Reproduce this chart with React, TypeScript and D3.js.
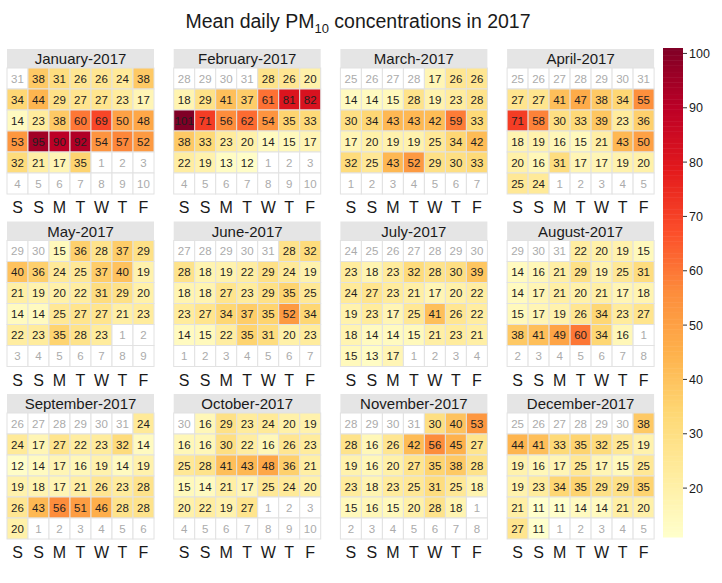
import React from "react";
import * as d3 from "d3";

const YEAR = 2017;
const monthNames = ["January", "February", "March", "April", "May", "June", "July", "August", "September", "October", "November", "December"];
const weekdayLabels = ["S", "S", "M", "T", "W", "T", "F"];
const legendTicks = [20, 30, 40, 50, 60, 70, 80, 90, 100];
const heatColours = ["#FFFFCC", "#FFEDA0", "#FED976", "#FEB24C", "#FD8D3C", "#FC4E2A", "#E31A1C", "#BD0026", "#800026"];

const jan = [38, 31, 26, 26, 24, 38, 34, 44, 29, 27, 27, 23, 17, 14, 23, 38, 60, 69, 50, 48, 53, 95, 90, 92, 54, 57, 52, 32, 21, 17, 35];
const feb = [28, 26, 20, 18, 29, 41, 37, 61, 81, 82, 101, 71, 56, 62, 54, 35, 33, 38, 33, 23, 20, 14, 15, 17, 22, 19, 13, 12];
const mar = [17, 26, 26, 14, 14, 15, 28, 19, 23, 28, 30, 34, 43, 43, 42, 59, 33, 17, 20, 19, 19, 25, 34, 42, 32, 25, 43, 52, 29, 30, 33];
const apr = [27, 27, 41, 47, 38, 34, 55, 71, 58, 30, 33, 39, 23, 36, 18, 19, 16, 15, 21, 43, 50, 20, 16, 31, 17, 17, 19, 20, 25, 24];
const may = [15, 36, 28, 37, 29, 40, 36, 24, 25, 37, 40, 19, 21, 19, 20, 22, 31, 29, 20, 14, 14, 25, 27, 27, 21, 23, 22, 23, 35, 28, 23];
const jun = [28, 32, 28, 18, 19, 22, 29, 24, 19, 18, 18, 27, 23, 29, 35, 25, 23, 27, 34, 37, 35, 52, 34, 14, 15, 22, 35, 31, 20, 23];
const jul = [23, 18, 23, 32, 28, 30, 39, 24, 27, 23, 21, 17, 20, 22, 19, 23, 17, 25, 41, 26, 22, 18, 14, 14, 15, 21, 23, 21, 15, 13, 17];
const aug = [22, 20, 19, 15, 14, 16, 21, 29, 19, 25, 31, 14, 17, 21, 20, 21, 17, 18, 15, 17, 19, 26, 34, 23, 27, 38, 41, 49, 60, 34, 16];
const sep = [24, 24, 17, 27, 22, 23, 32, 14, 12, 14, 17, 16, 19, 14, 19, 19, 18, 17, 21, 26, 23, 28, 26, 43, 56, 51, 46, 28, 28, 20];
const oct = [16, 29, 23, 24, 20, 19, 16, 16, 30, 22, 16, 26, 23, 25, 28, 41, 43, 48, 36, 21, 15, 14, 21, 17, 25, 24, 20, 20, 22, 19, 27];
const nov = [30, 40, 53, 28, 16, 26, 42, 56, 45, 27, 19, 16, 20, 27, 35, 38, 28, 23, 18, 23, 25, 31, 25, 18, 15, 16, 15, 20, 28, 18];
const dec = [38, 44, 41, 33, 35, 32, 25, 19, 19, 16, 17, 25, 17, 15, 25, 19, 23, 34, 35, 29, 29, 35, 21, 11, 11, 14, 14, 21, 20, 27, 11];

const monthValues = [jan, feb, mar, apr, may, jun, jul, aug, sep, oct, nov, dec];

const W = 722;
const H = 583;
const FONT = "'Liberation Sans', Arial, sans-serif";

type Cell = { day: number; value: number | null; inMonth: boolean; slot: number };

function buildMonth(m: number): Cell[] {
  const first = new Date(YEAR, m, 1);
  const daysIn = new Date(YEAR, m + 1, 0).getDate();
  const prevDays = new Date(YEAR, m, 0).getDate();
  // Saturday = 0 ... Friday = 6
  let lead = (first.getDay() + 1) % 7;
  if (lead === 0) lead = 7;
  const cells: Cell[] = [];
  for (let i = 0; i < lead; i++) {
    cells.push({ day: prevDays - lead + 1 + i, value: null, inMonth: false, slot: cells.length });
  }
  for (let d = 1; d <= daysIn; d++) {
    cells.push({ day: d, value: monthValues[m][d - 1], inMonth: true, slot: cells.length });
  }
  let nd = 1;
  while (cells.length < 42) {
    cells.push({ day: nd++, value: null, inMonth: false, slot: cells.length });
  }
  return cells;
}

export default function App() {
  const all = monthValues.flat();
  const vmin = d3.min(all) as number;
  const vmax = d3.max(all) as number;
  const colour = d3
    .scaleLinear<string>()
    .domain(heatColours.map((_, i) => vmin + ((vmax - vmin) * i) / (heatColours.length - 1)))
    .range(heatColours)
    .interpolate(d3.interpolateRgb);

  const panelX = d3.scaleLinear().domain([0, 1]).range([7, 173.7]);
  const panelY = d3.scaleLinear().domain([0, 1]).range([49, 221.5]);
  const stripH = 19;
  const colX = d3.scaleBand<number>().domain(d3.range(7)).range([0, 147]);
  const rowY = d3.scaleBand<number>().domain(d3.range(6)).range([0, 126]);

  const legTop = 48;
  const legBottom = 537;
  const legY = d3.scaleLinear().domain([vmin, vmax]).range([legBottom, legTop]);
  const legX = 663;
  const legW = 20;
  const steps = d3.range(0, 200);

  return (
    <svg width={W} height={H} style={{ position: "absolute", left: 0, top: 0, background: "#fff" }} fontFamily={FONT}>
      <rect x={0} y={0} width={W} height={H} fill="#fff" />
      <text x={358} y={28} textAnchor="middle" fontSize={19.5} fill="#1a1a1a">
        Mean daily PM
        <tspan fontSize={13} dy={5}>10</tspan>
        <tspan dy={-5}> concentrations in 2017</tspan>
      </text>
      {monthNames.map((name, m) => {
        const px = panelX(m % 4);
        const py = panelY(Math.floor(m / 4));
        const cy0 = py + stripH;
        const cells = buildMonth(m);
        return (
          <g key={name}>
            <rect x={px} y={py} width={147} height={stripH} fill="#e5e5e5" />
            <text x={px + 73.5} y={py + 15} textAnchor="middle" fontSize={15} fill="#1a1a1a">
              {name}-{YEAR}
            </text>
            {cells.map((c) => {
              const col = c.slot % 7;
              const row = Math.floor(c.slot / 7);
              const x = px + (colX(col) as number);
              const y = cy0 + (rowY(row) as number);
              return (
                <g key={c.slot}>
                  <rect
                    x={x}
                    y={y}
                    width={colX.bandwidth()}
                    height={rowY.bandwidth()}
                    fill={c.inMonth && c.value != null ? colour(c.value) : "#ffffff"}
                    stroke="#e2e2e2"
                    strokeWidth={1}
                  />
                  <text
                    x={x + colX.bandwidth() / 2}
                    y={y + rowY.bandwidth() / 2 + 4}
                    textAnchor="middle"
                    fontSize={11.5}
                    fill={c.inMonth ? "#1f1f1f" : "#ababab"}
                  >
                    {c.inMonth ? c.value : c.day}
                  </text>
                </g>
              );
            })}
            {weekdayLabels.map((w, i) => (
              <text
                key={i}
                x={px + (colX(i) as number) + colX.bandwidth() / 2}
                y={cy0 + 126 + 19}
                textAnchor="middle"
                fontSize={16}
                fill="#1a1a1a"
              >
                {w}
              </text>
            ))}
          </g>
        );
      })}
      <g>
        {steps.map((i) => {
          const v0 = vmin + ((vmax - vmin) * i) / steps.length;
          const v1 = vmin + ((vmax - vmin) * (i + 1)) / steps.length;
          return (
            <rect
              key={i}
              x={legX}
              y={legY(v1)}
              width={legW}
              height={legY(v0) - legY(v1) + 0.5}
              fill={colour((v0 + v1) / 2)}
            />
          );
        })}
        {legendTicks.map((t) => (
          <g key={t}>
            <line x1={legX + legW} x2={legX + legW + 4} y1={legY(t)} y2={legY(t)} stroke="#333" />
            <text x={legX + legW + 6} y={legY(t) + 4.5} fontSize={12.5} fill="#1a1a1a">
              {t}
            </text>
          </g>
        ))}
      </g>
    </svg>
  );
}
